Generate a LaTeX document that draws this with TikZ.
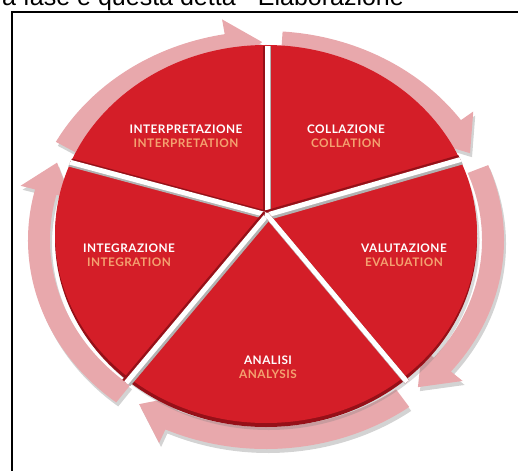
\documentclass[tikz,border=0pt]{standalone}
\usepackage{fontspec}
\setmainfont[LetterSpace=4]{Lato}
\newfontfamily\cutfont{Liberation Sans}
\usetikzlibrary{calc,shadows}
\definecolor{piered}{RGB}{212,30,40}
\definecolor{rimred}{RGB}{150,16,24}
\definecolor{ringpink}{RGB}{232,168,172}
\definecolor{subtxt}{RGB}{244,162,112}

\begin{document}
\begin{tikzpicture}[x=1pt,y=1pt,
    label node/.style={align=center,text=white,inner sep=0pt,
      font=\bfseries\fontsize{11.8}{13.5}\selectfont},
    ring arrow/.style={fill=ringpink,
      drop shadow={opacity=0.35,shadow xshift=2pt,shadow yshift=-4pt}},
    gap line/.style={white,line width=5pt,line cap=round}]
    \useasboundingbox (0,-470) rectangle (518,0);

    \coordinate (ring) at (266,-240);
    \coordinate (pie)  at (266,-234);
    \coordinate (hub)  at (267,-215);

    % cut-off caption line and frame
    \node[anchor=base west,inner sep=0pt,font=\cutfont\fontsize{25}{25}\selectfont]
      (caption) at (2,-6) {a fase è questa detta \ “Elaborazione};
    \draw[line width=2pt] (12,-475) -- (12,-12) -- (525,-12);

    % the five arrows round the pie
    \foreach \a/\b in {152/91,86/26,21/-48,-53/-124,-129/-203} {
      \fill[ring arrow] ($(ring)+(\a:238pt and 209pt)$)
          arc[start angle=\a,end angle=\b+9,x radius=238pt,y radius=209pt]
        -- ($(ring)+(\b+9:253pt and 224pt)$) -- ($(ring)+(\b:227pt and 198pt)$)
        -- ($(ring)+(\b+9:201pt and 172pt)$) -- ($(ring)+(\b+9:216pt and 187pt)$)
          arc[start angle=\b+9,end angle=\a,x radius=216pt,y radius=187pt]
        -- cycle;
    }

    % the pie
    \fill[rimred,drop shadow={opacity=0.3,shadow yshift=-3pt}]
      ($(pie)+(0,-4)$) ellipse[x radius=211pt,y radius=189pt];
    \fill[piered] (pie) ellipse[x radius=211pt,y radius=189pt];
    \begin{scope}
      \clip ($(pie)+(0,-4)$) ellipse[x radius=213pt,y radius=192pt];
      \foreach \d in {90,16,165,230,310} {
        \draw[black!30,line width=5pt] ($(hub)+(1.5,-2.5)$) -- ++(\d:280);
        \draw[rimred,line width=5pt] ($(hub)+(-1.5,2)$) -- ++(\d:280);
        \draw[gap line] (hub) -- ++(\d:280);
      }
    \end{scope}

    % labels
    \node[label node] (interp) at (186,-136) {INTERPRETAZIONE\\{\color{subtxt}INTERPRETATION}};
    \node[label node] (coll)   at (346,-136) {COLLAZIONE\\{\color{subtxt}COLLATION}};
    \node[label node] (valut)  at (404,-255) {VALUTAZIONE\\{\color{subtxt}EVALUATION}};
    \node[label node] (anal)   at (268,-367) {ANALISI\\{\color{subtxt}ANALYSIS}};
    \node[label node] (integ)  at (129,-255) {INTEGRAZIONE\\{\color{subtxt}INTEGRATION}};
\end{tikzpicture}
\end{document}
